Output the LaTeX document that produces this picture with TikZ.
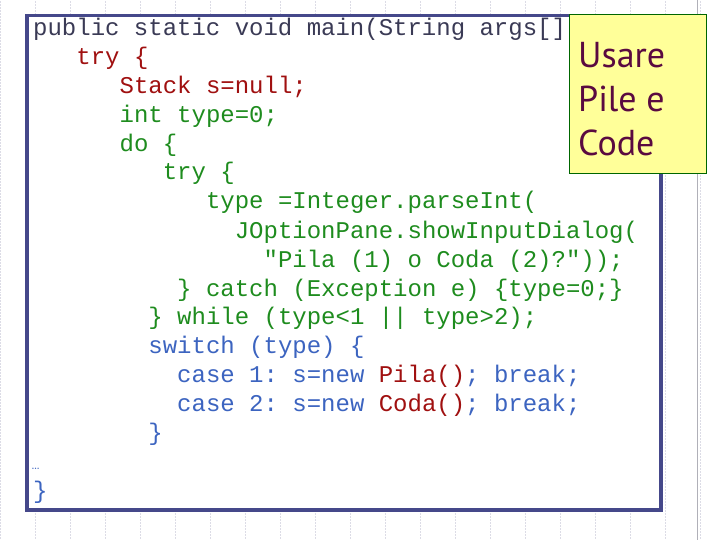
\documentclass[tikz,border=0pt]{standalone}
\usepackage{fontspec}
\setmonofont{Liberation Mono}
\newfontfamily\notefont{PT Sans}
\definecolor{cgray}{HTML}{3A3A55}
\definecolor{cred}{HTML}{A01010}
\definecolor{cgreen}{HTML}{1E8C1E}
\definecolor{cblue}{HTML}{3C64C0}
\definecolor{frame}{HTML}{45488A}
\definecolor{noteyel}{HTML}{FFFF99}
\definecolor{notetxt}{HTML}{5A0A40}
\definecolor{gridc}{HTML}{DCDCE6}
\begin{document}
\begin{tikzpicture}[x=1pt,y=-1pt,
  code/.style={anchor=base west,inner sep=0pt,font=\ttfamily\fontsize{24}{29}\selectfont},
  boxst/.style={draw=frame,line width=3.5pt,fill=white},
  notest/.style={draw=green!40!black,line width=0.6pt,fill=noteyel,text=notetxt,align=left,inner sep=0pt,font=\notefont\fontsize{36}{44}\selectfont}]
\useasboundingbox (0,0) rectangle (720,540);
\fill[white] (0,0) rectangle (720,540);
\draw[gridc,densely dotted,line width=0.5pt] (0,0) grid[step=35] (720,540);
\draw[gridc!80!black,line width=1pt] (697,0) -- (697,540);
\node[boxst,minimum width=634,minimum height=494,anchor=north west,inner sep=0pt] (box) at (25,14) {};
\def\cw{14.4}
\newcommand\cl[4]{\node[code,text=#3] (#4) at (33+#1*\cw,#2+8) {#4x};}
\node[code,text=cgray] (l1) at (33,36) {public static void main(String args[])};
\node[code,text=cred] (l2) at (33+3*\cw,65) {try \{};
\node[code,text=cred] (l3) at (33+6*\cw,94) {Stack s=null;};
\node[code,text=cgreen] (l4) at (33+6*\cw,123) {int type=0;};
\node[code,text=cgreen] (l5) at (33+6*\cw,152) {do \{};
\node[code,text=cgreen] (l6) at (33+9*\cw,180) {try \{};
\node[code,text=cgreen] (l7) at (33+12*\cw,209) {type =Integer.parseInt(};
\node[code,text=cgreen] (l8) at (33+14*\cw,238) {JOptionPane.showInputDialog(};
\node[code,text=cgreen] (l9) at (33+16*\cw,267) {"Pila (1) o Coda (2)?"));};
\node[code,text=cgreen] (l10) at (33+10*\cw,296) {\} catch (Exception e) \{type=0;\}};
\node[code,text=cgreen] (l11) at (33+8*\cw,324) {\} while (type<1 || type>2);};
\node[code,text=cblue] (l12) at (33+8*\cw,353) {switch (type) \{};
\node[code,text=cblue] (l13) at (33+10*\cw,382) {case 1: s=new \textcolor{cred}{Pila()}; break;};
\node[code,text=cblue] (l14) at (33+10*\cw,411) {case 2: s=new \textcolor{cred}{Coda()}; break;};
\node[code,text=cblue] (l15) at (33+8*\cw,440) {\}};
\node[code,text=cblue,font=\fontsize{14}{16}\selectfont] (l16) at (31,469) {…};
\node[code,text=cblue] (l17) at (33,498) {\}};
\node[notest,minimum width=137,minimum height=159,anchor=north west] (note) at (569,14) {};
\node[anchor=north west,inner sep=0pt,text=notetxt,align=left,font=\notefont\fontsize{36}{44}\selectfont] (notetext) at (578,42) {Usare\\Pile e\\Code};
\end{tikzpicture}
\end{document}
